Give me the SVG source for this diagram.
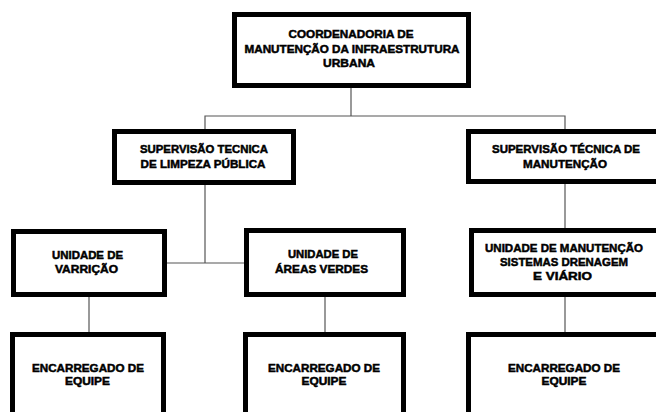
<svg xmlns="http://www.w3.org/2000/svg" width="656" height="412" viewBox="0 0 656 412">
<style>
.box{fill:#fff;stroke:#000;stroke-width:5}
.lbl{font-family:"Liberation Sans",Arial,sans-serif;font-weight:bold;font-size:11.5px;fill:#000;stroke:#000;stroke-width:0.5;text-anchor:middle}
.con{stroke:#555;stroke-width:1.2;fill:none}
</style>
<rect width="656" height="412" fill="#fff"/>
<g id="connectors">
<line class="con" x1="351" y1="88" x2="351" y2="116"/>
<polyline class="con" points="205,129 205,116 565,116 565,129"/>
<line class="con" x1="205" y1="185" x2="205" y2="263"/>
<line class="con" x1="167" y1="263" x2="244" y2="263"/>
<line class="con" x1="565" y1="183" x2="565" y2="228"/>
<line class="con" x1="89" y1="297" x2="89" y2="332"/>
<line class="con" x1="325" y1="297" x2="325" y2="332"/>
<line class="con" x1="565" y1="297" x2="565" y2="332"/>
</g>
<g id="coordenadoria">
<rect class="box" x="234.5" y="14.5" width="234" height="71"/>
<text class="lbl" x="351" y="38" textLength="125" lengthAdjust="spacingAndGlyphs">COORDENADORIA DE</text>
<text class="lbl" x="352" y="53" textLength="215" lengthAdjust="spacingAndGlyphs">MANUTENÇÃO DA INFRAESTRUTURA</text>
<text class="lbl" x="349" y="67" textLength="52" lengthAdjust="spacingAndGlyphs">URBANA</text>
</g>
<g id="sup-limpeza">
<rect class="box" x="114.5" y="131.5" width="179" height="51"/>
<text class="lbl" x="204" y="153" textLength="128" lengthAdjust="spacingAndGlyphs">SUPERVISÃO TECNICA</text>
<text class="lbl" x="203" y="168" textLength="125" lengthAdjust="spacingAndGlyphs">DE LIMPEZA PÚBLICA</text>
</g>
<g id="sup-manutencao">
<rect class="box" x="468.5" y="131.5" width="200" height="50"/>
<text class="lbl" x="566" y="153" textLength="148" lengthAdjust="spacingAndGlyphs">SUPERVISÃO TÉCNICA DE</text>
<text class="lbl" x="565" y="168" textLength="84" lengthAdjust="spacingAndGlyphs">MANUTENÇÃO</text>
</g>
<g id="unidade-varricao">
<rect class="box" x="13.5" y="231.5" width="151" height="63"/>
<text class="lbl" x="87.5" y="259" textLength="71" lengthAdjust="spacingAndGlyphs">UNIDADE DE</text>
<text class="lbl" x="86.5" y="273" textLength="63" lengthAdjust="spacingAndGlyphs">VARRIÇÃO</text>
</g>
<g id="unidade-areas-verdes">
<rect class="box" x="246.5" y="230.5" width="157" height="64"/>
<text class="lbl" x="323" y="258" textLength="70" lengthAdjust="spacingAndGlyphs">UNIDADE DE</text>
<text class="lbl" x="321.5" y="273" textLength="93" lengthAdjust="spacingAndGlyphs">ÁREAS VERDES</text>
</g>
<g id="unidade-manutencao">
<rect class="box" x="471.5" y="230.5" width="200" height="64"/>
<text class="lbl" x="564" y="252" textLength="158" lengthAdjust="spacingAndGlyphs">UNIDADE DE MANUTENÇÃO</text>
<text class="lbl" x="564" y="266" textLength="128" lengthAdjust="spacingAndGlyphs">SISTEMAS DRENAGEM</text>
<text class="lbl" x="562.5" y="280" textLength="59" lengthAdjust="spacingAndGlyphs">E VIÁRIO</text>
</g>
<g id="encarregado-1">
<rect class="box" x="12.5" y="334.5" width="151" height="100"/>
<text class="lbl" x="88" y="372" textLength="112" lengthAdjust="spacingAndGlyphs">ENCARREGADO DE</text>
<text class="lbl" x="87.5" y="385" textLength="45" lengthAdjust="spacingAndGlyphs">EQUIPE</text>
</g>
<g id="encarregado-2">
<rect class="box" x="245.5" y="334.5" width="158" height="100"/>
<text class="lbl" x="324" y="372" textLength="112" lengthAdjust="spacingAndGlyphs">ENCARREGADO DE</text>
<text class="lbl" x="324" y="385" textLength="45" lengthAdjust="spacingAndGlyphs">EQUIPE</text>
</g>
<g id="encarregado-3">
<rect class="box" x="468.5" y="334.5" width="200" height="100"/>
<text class="lbl" x="564" y="372" textLength="112" lengthAdjust="spacingAndGlyphs">ENCARREGADO DE</text>
<text class="lbl" x="564" y="385" textLength="45" lengthAdjust="spacingAndGlyphs">EQUIPE</text>
</g>
</svg>
